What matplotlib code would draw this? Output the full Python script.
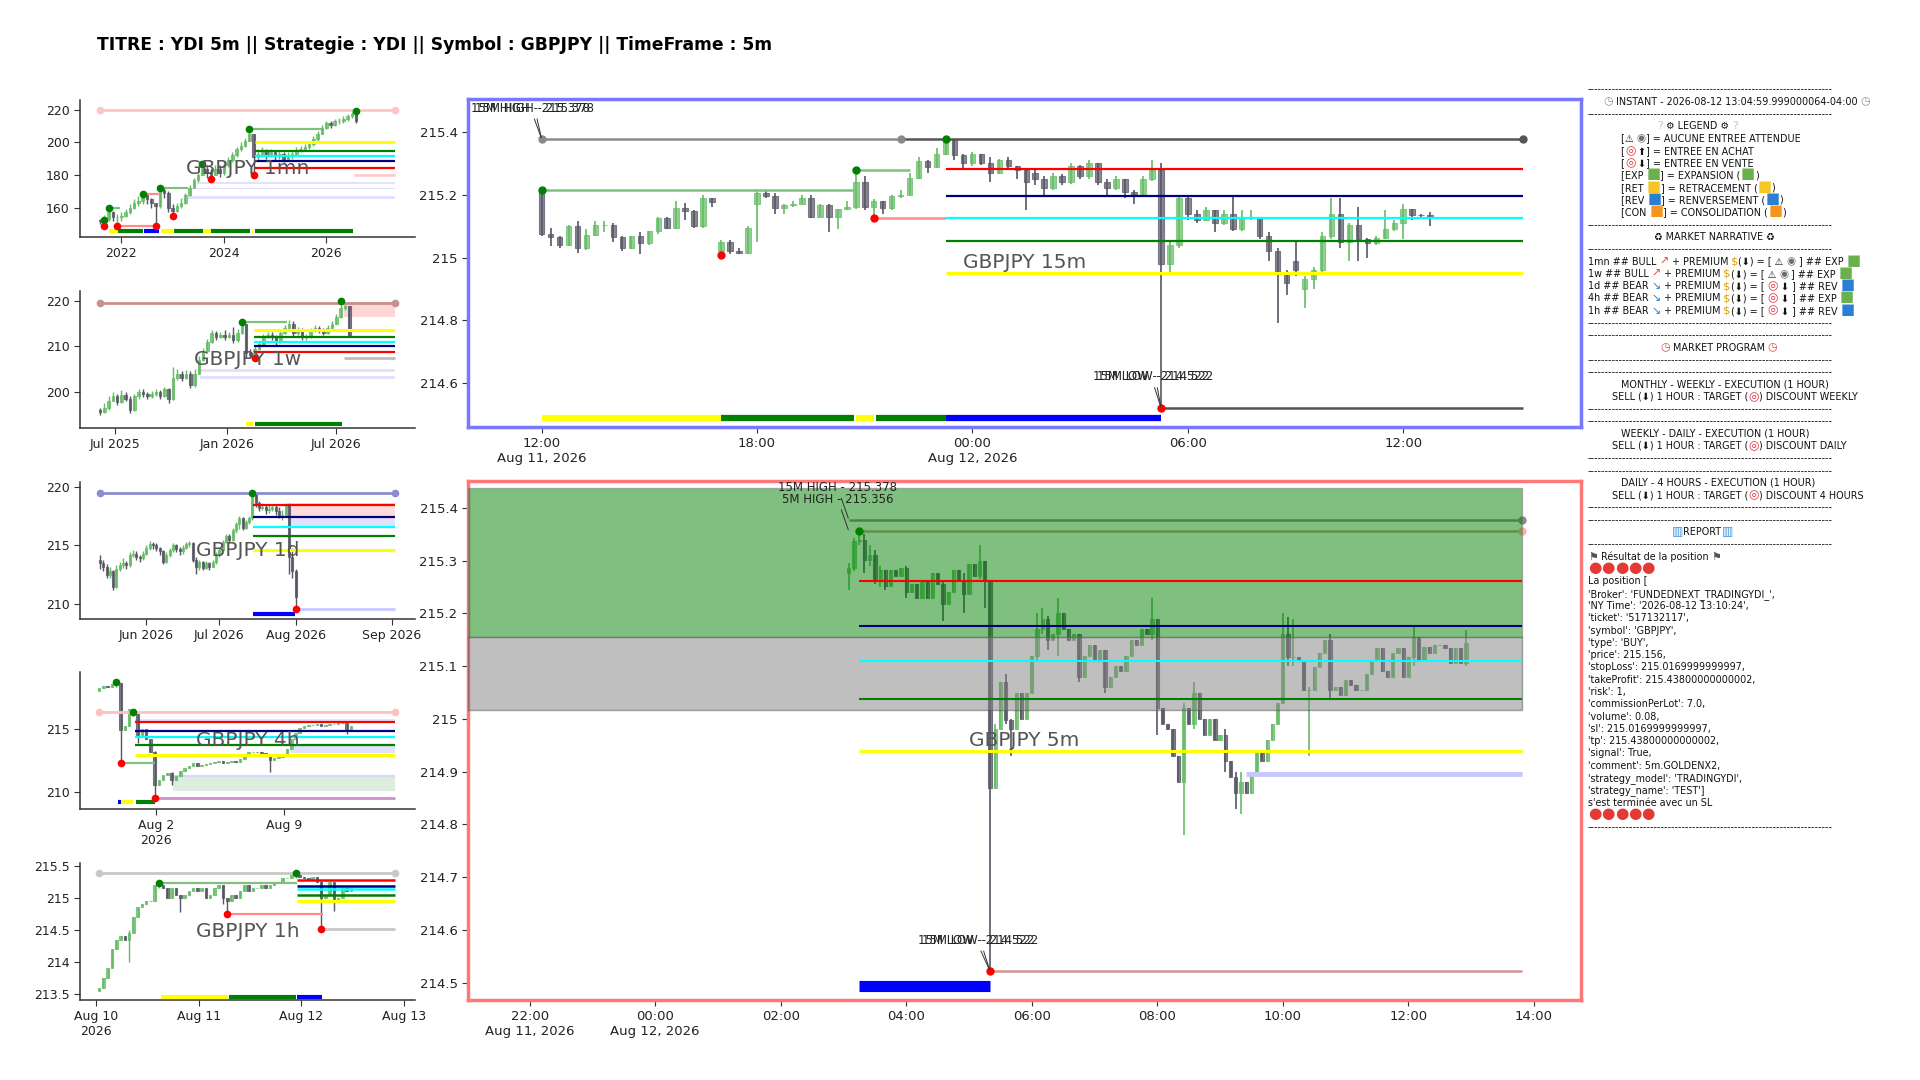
import numpy as np
import matplotlib
matplotlib.use("Agg")
import matplotlib.pyplot as plt
from matplotlib.ticker import FuncFormatter
from matplotlib.font_manager import FontProperties

FAMILIES = ["DejaVu Sans", "Noto Sans CJK JP"]
plt.rcParams["font.family"] = FAMILIES

TITLE = "TITRE : YDI 5m || Strategie : YDI || Symbol : GBPJPY || TimeFrame : 5m"

# ---------------- monthly (1mn) ----------------
mn_open0 = 152.5
mn_close = [151.5, 153, 157, 154, 154, 155, 157, 160, 163, 164, 168, 165, 163, 161, 171, 169,
            160, 158, 161, 163, 168, 172, 177, 180, 184, 182, 180, 184, 181, 186, 189, 192,
            196, 198, 201, 205, 191, 193, 195, 192, 194, 192, 193, 190, 192, 193, 195, 196,
            197, 199, 202, 205, 209, 212, 211, 213, 213.5, 214.5, 216, 217.5, 213]
mn_high = [153, 155.5, 160, 158, 156, 157, 159, 162, 165, 167, 168.5, 168, 166, 163, 172, 172,
           170, 162, 163, 166, 169, 174, 178, 181, 187, 186, 184, 186, 186, 188, 191, 194,
           197, 200, 203, 208, 205, 196, 197, 196, 196, 195, 195, 194, 194, 195, 197, 198,
           199, 201, 204, 207, 211, 213, 213, 214.5, 215, 216, 217.5, 219, 219.6]
mn_low = [150, 148.7, 152, 152, 148.7, 152, 154, 156, 159, 161, 162, 162, 160, 148.7, 160, 166,
          157, 155, 157, 160, 162, 167, 172, 176, 180, 178, 177.8, 180, 179, 180, 185, 188,
          191, 195, 197, 201, 180, 189, 191, 190, 191, 189, 190, 188, 189, 190, 192, 194,
          195, 196, 198, 201, 205, 208, 209, 210, 211.5, 212, 213.5, 215, 212]
mn_top = 220.0
mn_end = 69.1
mn_levels = [184.5, 188.6, 191.7, 195.0, 200.1]   # red, navy, cyan, green, yellow
mn_levels_from = 36.3
mn_faint = (59.4, 180.0)
mn_lav_bands = [(22.7, 174.3, 176.0), (20.7, 171.3, 171.9), (20.7, 165.5, 167.0)]
mn_links_up = [(2, 4.7, 160.0), (14, 20.7, 172.0), (35, 52.0, 208.0)]
mn_links_dn = [(10, 14, 168.5), (4, 13, 148.7)]
mn_green_dots = [(1, 152.4), (2, 160.0), (10, 168.5), (14, 172.0), (24, 186.8), (35, 208.0), (60, 219.6)]
mn_red_dots = [(1, 148.7), (4, 148.7), (13, 148.7), (17, 155.0), (26, 177.8), (36, 180.0)]
mn_phase_y = 145.8
mn_phases = [(2.2, 4.1, "RET"), (4.1, 10.0, "EXP"), (10.3, 13.9, "REV"), (14.3, 17.2, "RET"),
             (17.3, 24.1, "EXP"), (24.2, 26.1, "RET"), (26.1, 35.2, "EXP"), (35.5, 35.9, "RET"),
             (36.3, 59.2, "EXP")]
mn_xticks = [5, 29, 53]
mn_xlabels = ["2022", "2024", "2026"]
mn_yticks = [160, 180, 200, 220]

# ---------------- weekly (1w) ----------------
w_open0 = 196.0
w_close = [195.5, 196.5, 198, 199, 197.8, 199.3, 198.5, 196, 199, 200, 199.5, 199, 199.5, 200, 199,
           200.5, 198.5, 203, 204, 203, 204, 201.5, 204, 207, 209, 211, 213, 212, 212.5, 212,
           212.5, 211.5, 213, 215, 208.5, 208, 209.5, 210.5, 212, 212.5, 212, 211, 213, 214, 215,
           213, 213.5, 212, 212, 213.5, 214, 213.5, 213, 214, 215, 216.5, 218.5, 218.8, 212.5]
w_high = [196.5, 197.5, 199, 200, 199.5, 200.3, 200, 199, 199.6, 200.6, 200.5, 200, 200.2, 200.6,
          200.3, 201, 200.8, 205.5, 205, 204.5, 204.8, 204.5, 205, 207.8, 209.6, 211.6, 213.5,
          213.3, 213.2, 213.5, 213.2, 214.3, 213.8, 215.3, 215, 209.5, 210.3, 211.2, 212.8, 213.2,
          213.2, 212.6, 213.6, 214.8, 215.8, 215.5, 214.3, 214, 212.8, 214, 214.6, 214.5, 214,
          214.6, 215.6, 217.2, 220, 219.3, 218.8]
w_low = [194.8, 195.2, 196, 198, 197, 197.5, 198, 195.2, 195.8, 198.5, 198.8, 198.5, 198.7, 199,
         198.5, 198.8, 197.5, 198.2, 202.5, 202.3, 202.7, 200.8, 201, 203.8, 206.8, 208.8, 210.8,
         211.5, 211.8, 211.5, 211.8, 210.8, 211, 212.8, 207.5, 207.4, 207.8, 209.3, 210.3, 211.8,
         211.3, 210.3, 210.8, 212.8, 213.8, 212.3, 212.5, 211.5, 211.5, 211.8, 213.2, 213, 212.5,
         212.8, 213.8, 215, 216.3, 218, 212]
w_top = 219.6
w_end = 68.6
w_levels = [208.7, 210.0, 211.0, 212.1, 213.6]
w_levels_from = 35.9
w_pink_box = (56.7, 216.5, 219.8)
w_gray_line = (56.7, 207.4)
w_lav_bands = [(23.3, 204.3, 204.9), (23.3, 202.9, 203.4)]
w_links_up = [(33, 43.4, 215.3)]
w_green_dots = [(33, 215.3), (56, 219.9)]
w_red_dots = [(36, 207.4)]
w_phase_y = 192.8
w_phases = [(34, 35.7, "RET"), (36, 56.4, "EXP")]
w_xticks = [3.5, 29.5, 55]
w_xlabels = ["Jul 2025", "Jan 2026", "Jul 2026"]
w_yticks = [200, 210, 220]

# ---------------- daily (1d) ----------------
d_open0 = 213.8
d_close = [213.5, 213.2, 212.5, 212.8, 211.5, 213.0, 213.3, 213.5, 213.3, 214.2, 214.3, 214.0, 213.9, 214.3,
           214.8, 215.1, 215.0, 214.8, 214.5, 213.6, 214.2, 214.6, 215.0, 214.7, 214.5, 214.8, 215.1,
           215.2, 213.8, 213.2, 213.6, 213.1, 213.5, 213.2, 213.6, 214.2,
           214.6, 215.3, 215.8, 215.5, 216.3, 216.8, 217.3, 216.5, 217.0, 217.3,
           219.4,
           218.6, 218.2, 218.3, 218.0, 218.1, 218.3, 217.9, 217.6, 217.6, 218.4,
           214.0, 212.8, 210.6]
d_high = [214.2, 213.8, 213.4, 213.2, 212.9, 213.3, 213.6, 213.9, 213.7, 214.4, 214.6, 214.5, 214.2, 214.5,
          215.0, 215.4, 215.3, 215.2, 214.9, 214.6, 214.4, 214.8, 215.2, 215.1, 214.9, 215.0, 215.3,
          215.4, 215.3, 214.0, 213.8, 213.7, 213.7, 213.6, 213.8, 214.4,
          214.8, 215.5, 216.0, 216.0, 216.5, 217.0, 217.5, 217.4, 217.2, 217.5,
          219.6,
          219.4, 218.8, 218.6, 218.5, 218.4, 218.5, 218.4, 218.3, 218.0, 218.6,
          218.6, 214.8, 213.0]
d_low = [213.0, 212.8, 212.2, 212.2, 211.2, 211.4, 212.8, 213.1, 213.0, 213.2, 214.0, 213.8, 213.6, 213.8,
         214.2, 214.6, 214.7, 214.5, 214.2, 213.4, 213.5, 214.0, 214.4, 214.4, 214.2, 214.3, 214.7,
         214.9, 213.6, 212.6, 212.9, 212.9, 213.0, 212.9, 213.3, 213.4,
         214.0, 214.5, 215.2, 215.2, 215.4, 216.1, 216.4, 216.3, 216.4, 216.8,
         217.2,
         218.3, 217.9, 218.0, 217.7, 217.8, 217.9, 217.6, 217.3, 217.2, 217.4,
         212.6, 212.2, 209.6]
d_top = 219.5
d_end = 88.9
d_levels = [218.4, 217.4, 216.6, 215.8, 214.6]
d_levels_from = 46.2
d_pink_box = (57.3, 217.4, 218.6)
d_lav_box = (57.3, 216.6, 217.4)
d_lav_line = (59, 209.6)
d_green_dots = [(46, 219.5)]
d_red_dots = [(59, 209.6)]
d_phase_y = 209.2
d_phases = [(46.2, 58.8, "REV")]
d_xticks = [14, 36, 59, 88]
d_xlabels = ["Jun 2026", "Jul 2026", "Aug 2026", "Sep 2026"]
d_yticks = [210, 215, 220]

# ---------------- 4 hours (4h) ----------------
h4_open0 = 218.0
h4_close = [218.2, 218.4, 218.3, 218.5, 218.6, 214.9, 215.2, 216.6, 216.2, 214.5,
            215.0, 214.2, 213.2, 210.6, 211.0, 211.4, 211.5, 211.0, 211.3, 211.7,
            211.9, 212.1, 212.3, 212.1, 212.2, 212.25, 212.3, 212.4, 212.5, 212.35,
            212.4, 212.45, 212.4, 212.6, 212.85, 213.2, 213.2, 213.15, 213.1, 212.95,
            212.55, 212.7, 212.8, 213.0, 213.4, 214.2, 214.7, 215.1, 215.25, 215.3,
            215.3, 215.35, 215.2, 215.3, 215.35, 215.4, 215.45, 215.5, 215.0, 215.2]
h4_wicks = {4: (218.7, 218.3), 5: (218.6, 212.3), 8: (216.33, 216.0), 9: (216.2, 213.9),
            13: (213.3, 209.55), 17: (211.6, 210.6), 40: (213.0, 211.6), 58: (215.5, 214.6)}
h4_top = 216.33
h4_end = 69.3
h4_levels = [215.55, 214.87, 214.35, 213.72, 212.94]
h4_levels_from = 8.4
h4_lav_boxes = [(8.4, 215.47, 215.78), (44.7, 213.07, 213.78)]
h4_green_box = (17.3, 210.13, 211.3)
h4_plum_line = (13.3, 209.55)
h4_links_up = [(5.2, 13, 212.3)]
h4_green_dots = [(4, 218.7), (8, 216.33)]
h4_red_dots = [(5, 212.3), (13, 209.55)]
h4_phase_y = 209.27
h4_phases = [(4.5, 5.1, "REV"), (5.2, 8.0, "RET"), (8.6, 13.0, "EXP")]
h4_xticks = [13.3, 43.3]
h4_xlabels = ["Aug 2\n2026", "Aug 9"]
h4_yticks = [210, 215]

# ---------------- 1 hour (1h) ----------------
h1_open0 = 213.55
h1_close = [213.6, 213.75, 213.9, 214.2, 214.35, 214.4, 214.35, 214.45, 214.7, 214.85,
            214.9, 214.95, 214.95, 215.2, 215.2, 215.15, 215.0, 215.15, 215.05, 215.0,
            215.05, 215.1, 215.15, 215.1, 215.15, 215.0, 215.05, 215.15, 215.2, 215.0,
            214.95, 215.05, 215.0, 215.1, 215.2, 215.1, 215.15, 215.15, 215.2, 215.15,
            215.2, 215.25, 215.25, 215.3, 215.3, 215.35, 215.35, 215.33, 215.3, 215.28,
            215.32, 215.25, 215.0, 215.05, 215.25, 214.95, 215.0, 215.15, 215.1, 215.15]
h1_wicks = {7: (214.5, 214.0), 14: (215.23, 215.15), 19: (215.05, 214.78), 29: (215.2, 214.9),
            30: (215.0, 214.75), 46: (215.38, 215.3), 52: (215.28, 214.52), 55: (215.25, 214.8)}
h1_top = 215.38
h1_end = 69.3
h1_levels = [215.28, 215.19, 215.13, 215.05, 214.95]
h1_levels_from = 46.25
h1_links_up = [(14, 46.25, 215.23)]
h1_links_dn = [(30.2, 52.5, 214.75)]
h1_gray_line = (52.3, 214.52)
h1_green_dots = [(14, 215.23), (46, 215.38)]
h1_red_dots = [(30, 214.75), (52, 214.52)]
h1_phase_y = 213.46
h1_phases = [(14.5, 30.1, "RET"), (30.5, 46.1, "EXP"), (46.4, 52.1, "REV")]
h1_xticks = [-0.8, 23.3, 47.4, 71.4]
h1_xlabels = ["Aug 10\n2026", "Aug 11", "Aug 12", "Aug 13"]
h1_yticks = [213.5, 214, 214.5, 215, 215.5]

# ---------------- 15 minutes (main top) ----------------
m15_close = [215.075, 215.064, 215.041, 215.099, 215.030, 215.072, 215.105, 215.105, 215.064, 215.030,
             215.067, 215.046, 215.083, 215.126, 215.094, 215.158, 215.147, 215.100, 215.190, 215.177,
             215.050, 215.020, 215.015, 215.094, 215.205, 215.195, 215.158, 215.168, 215.172, 215.190,
             215.130, 215.168, 215.130, 215.153, 215.160, 215.240, 215.160, 215.180, 215.158, 215.195,
             215.200, 215.253, 215.306, 215.287, 215.330, 215.378, 215.328, 215.300, 215.330, 215.300,
             215.270, 215.310, 215.290, 215.280, 215.240, 215.250, 215.220, 215.260, 215.240, 215.290,
             215.260, 215.300, 215.240, 215.220, 215.250, 215.210, 215.200, 215.250, 215.280, 214.980,
             215.040, 215.190, 215.140, 215.120, 215.150, 215.110, 215.140, 215.090, 215.130, 215.130,
             215.070, 215.020, 214.950, 214.920, 214.960, 214.930, 214.960, 215.070, 215.140, 215.050,
             215.104, 215.058, 215.046, 215.062, 215.090, 215.110, 215.153, 215.136, 215.135, 215.125]
m15_open_gaps = {0: 215.216, 20: 215.020, 24: 215.170, 55: 215.270, 84: 214.990, 85: 214.900}
m15_high = [215.220, 215.094, 215.070, 215.105, 215.117, 215.090, 215.115, 215.115, 215.110, 215.070,
            215.070, 215.080, 215.085, 215.130, 215.130, 215.180, 215.175, 215.150, 215.200, 215.190,
            215.055, 215.055, 215.030, 215.100, 215.215, 215.215, 215.205, 215.170, 215.180, 215.200,
            215.200, 215.170, 215.170, 215.155, 215.180, 215.280, 215.260, 215.185, 215.180, 215.200,
            215.215, 215.270, 215.320, 215.310, 215.350, 215.378, 215.378, 215.330, 215.335, 215.330,
            215.320, 215.315, 215.320, 215.290, 215.280, 215.280, 215.260, 215.270, 215.265, 215.300,
            215.295, 215.310, 215.300, 215.250, 215.260, 215.250, 215.215, 215.260, 215.310, 215.300,
            215.050, 215.200, 215.200, 215.150, 215.160, 215.150, 215.150, 215.200, 215.150, 215.150,
            215.130, 215.080, 215.030, 214.960, 215.050, 214.940, 214.970, 215.080, 215.190, 215.190,
            215.110, 215.160, 215.062, 215.070, 215.150, 215.120, 215.170, 215.155, 215.140, 215.145]
m15_low = [215.070, 215.036, 215.030, 215.038, 215.014, 215.025, 215.068, 215.080, 215.050, 215.020,
           215.028, 215.010, 215.040, 215.075, 215.090, 215.090, 215.120, 215.095, 215.095, 215.160,
           215.009, 215.010, 215.010, 215.012, 215.050, 215.190, 215.140, 215.140, 215.160, 215.170,
           215.125, 215.128, 215.080, 215.090, 215.150, 215.155, 215.150, 215.126, 215.140, 215.150,
           215.190, 215.198, 215.250, 215.270, 215.285, 215.325, 215.310, 215.280, 215.290, 215.295,
           215.240, 215.265, 215.285, 215.250, 215.150, 215.230, 215.200, 215.215, 215.230, 215.235,
           215.250, 215.250, 215.230, 215.200, 215.215, 215.190, 215.170, 215.195, 215.245, 214.522,
           214.950, 215.030, 215.120, 215.110, 215.115, 215.080, 215.105, 215.085, 215.085, 215.120,
           215.060, 214.990, 214.790, 214.880, 214.940, 214.840, 214.900, 214.950, 215.060, 215.030,
           214.990, 214.990, 215.000, 215.040, 215.060, 215.085, 215.060, 215.120, 215.125, 215.100]
m15_high_level = 215.378
m15_low_level = 214.522
m15_end = 109.3
m15_levels = [215.283, 215.197, 215.127, 215.053, 214.951]
m15_levels_from = 45
m15_links_up = [(0, 35, 215.216), (35, 41, 215.28)]
m15_links_dn = [(37, 45, 215.126)]
m15_green_dots = [(0, 215.216), (35, 215.28), (45, 215.378)]
m15_red_dots = [(20, 215.009), (37, 215.126), (69, 214.522)]
m15_phase_y = 214.49
m15_phases = [(0, 20, "RET"), (20, 34.8, "EXP"), (35, 37, "RET"), (37.2, 45, "EXP"), (45, 69, "REV")]
m15_xticks = [0, 24, 48, 72, 96]
m15_xlabels = ["12:00\nAug 11, 2026", "18:00", "00:00\nAug 12, 2026", "06:00", "12:00"]
m15_yticks = [214.6, 214.8, 215.0, 215.2, 215.4]

# ---------------- 5 minutes (main bottom) ----------------
m5_open0 = 215.277
m5_close = [215.286, 215.337, 215.340, 215.302, 215.310, 215.264, 215.283, 215.252, 215.283, 215.270,
            215.286, 215.240, 215.255, 215.230, 215.264, 215.229, 215.277, 215.255, 215.217, 215.240,
            215.283, 215.264, 215.236, 215.293, 215.270, 215.300, 215.264, 214.869, 214.980, 215.070,
            214.998, 214.980, 215.050, 215.000, 215.050, 215.120, 215.170, 215.190, 215.150, 215.160,
            215.200, 215.170, 215.150, 215.160, 215.080, 215.120, 215.140, 215.110, 215.130, 215.060,
            215.080, 215.100, 215.090, 215.120, 215.150, 215.140, 215.170, 215.160, 215.190, 215.020,
            214.990, 214.980, 214.930, 214.880, 215.020, 214.990, 215.050, 215.000, 214.970, 215.000,
            214.960, 214.970, 214.920, 214.890, 214.860, 214.880, 214.860, 214.900, 214.935, 214.920,
            214.960, 214.990, 215.030, 215.160, 215.118, 215.118, 215.109, 215.055, 215.055, 215.099,
            215.124, 215.150, 215.055, 215.061, 215.045, 215.074, 215.065, 215.055, 215.055, 215.086,
            215.112, 215.134, 215.090, 215.080, 215.124, 215.134, 215.080, 215.118, 215.156, 215.112,
            215.137, 215.124, 215.140, 215.140, 215.134, 215.105, 215.134, 215.105, 215.143]
m5_wicks = {0: (215.296, 215.245), 1: (215.343, 215.280), 2: (215.356, 215.330), 3: (215.350, 215.277),
            4: (215.330, 215.290), 5: (215.320, 215.255), 6: (215.290, 215.250), 7: (215.270, 215.245),
            11: (215.290, 215.230), 18: (215.260, 215.185), 22: (215.277, 215.200), 25: (215.330, 215.265),
            26: (215.300, 215.210), 27: (215.264, 214.522), 28: (214.990, 214.870), 30: (215.085, 214.990),
            31: (215.000, 214.930), 36: (215.200, 215.110), 37: (215.210, 215.160), 38: (215.195, 215.130),
            40: (215.230, 215.120), 44: (215.160, 215.070), 49: (215.130, 215.050), 58: (215.230, 215.150),
            59: (215.190, 214.970), 64: (215.030, 214.780), 66: (215.070, 214.980), 72: (214.980, 214.900),
            74: (214.900, 214.830), 75: (214.900, 214.820), 83: (215.200, 215.030), 84: (215.194, 215.100),
            85: (215.190, 215.100), 88: (215.060, 214.930), 92: (215.160, 215.040), 108: (215.175, 215.100),
            118: (215.169, 215.100)}
m5_tp = 215.437
m5_entry = 215.156
m5_sl = 215.017
m5_high15 = 215.378
m5_high5 = 215.356
m5_low15 = 214.522
m5_end = 128.8
m5_levels = [215.261, 215.177, 215.109, 215.037, 214.939]
m5_levels_from = 2
m5_orange_line = (59, 214.94)
m5_lav_line = (76, 214.895)
m5_blue_bar = (2, 27, 214.494)
m5_xticks = [-61, -37, -13, 11, 35, 59, 83, 107, 131]
m5_xlabels = ["22:00\nAug 11, 2026", "00:00\nAug 12, 2026", "02:00", "04:00", "06:00",
              "08:00", "10:00", "12:00", "14:00"]
m5_yticks = [214.5, 214.6, 214.7, 214.8, 214.9, 215.0, 215.1, 215.2, 215.3, 215.4]

# ---------------- report text ----------------
DASH = "-" * 70
report_lines = [
    DASH,
    "     \u23f1 INSTANT - 2026-08-12 13:04:59.999000064-04:00 \u23f1",
    DASH,
    "                       \u2754 \u2699 LEGEND \u2699 \u2754",
    "           [\u26a0 \U0001F441] = AUCUNE ENTREE ATTENDUE",
    "           [\U0001F3AF \u2b06] = ENTREE EN ACHAT",
    "           [\U0001F3AF \u2b07] = ENTREE EN VENTE",
    "           [EXP \U0001F7E9] = EXPANSION (\U0001F7E9)",
    "           [RET \U0001F7E8] = RETRACEMENT (\U0001F7E8)",
    "           [REV \U0001F7E6] = RENVERSEMENT (\U0001F7E6)",
    "           [CON \U0001F7E7] = CONSOLIDATION (\U0001F7E7)",
    DASH,
    "                      \u267b MARKET NARRATIVE \u267b",
    DASH,
    "1mn ## BULL \U0001F4C8 + PREMIUM \U0001F4B0(\u2b07) = [ \u26a0 \U0001F441 ] ## EXP \U0001F7E9",
    "1w ## BULL \U0001F4C8 + PREMIUM \U0001F4B0(\u2b07) = [ \u26a0 \U0001F441 ] ## EXP \U0001F7E9",
    "1d ## BEAR \U0001F4C9 + PREMIUM \U0001F4B0(\u2b07) = [ \U0001F3AF \u2b07 ] ## REV \U0001F7E6",
    "4h ## BEAR \U0001F4C9 + PREMIUM \U0001F4B0(\u2b07) = [ \U0001F3AF \u2b07 ] ## EXP \U0001F7E9",
    "1h ## BEAR \U0001F4C9 + PREMIUM \U0001F4B0(\u2b07) = [ \U0001F3AF \u2b07 ] ## REV \U0001F7E6",
    DASH,
    DASH,
    "                        \u23f0 MARKET PROGRAM \u23f0",
    DASH,
    DASH,
    "           MONTHLY - WEEKLY - EXECUTION (1 HOUR)",
    "        SELL (\u2b07) 1 HOUR : TARGET (\U0001F3AF) DISCOUNT WEEKLY",
    DASH,
    DASH,
    "           WEEKLY - DAILY - EXECUTION (1 HOUR)",
    "        SELL (\u2b07) 1 HOUR : TARGET (\U0001F3AF) DISCOUNT DAILY",
    DASH,
    DASH,
    "           DAILY - 4 HOURS - EXECUTION (1 HOUR)",
    "        SELL (\u2b07) 1 HOUR : TARGET (\U0001F3AF) DISCOUNT 4 HOURS",
    DASH,
    DASH,
    "                            \U0001F4CAREPORT\U0001F4CA",
    DASH,
    "\U0001F3C1 R\u00e9sultat de la position \U0001F3C1",
    "\u26d4\u26d4\u26d4\u26d4\u26d4",
    "La position [",
    "'Broker': 'FUNDEDNEXT_TRADINGYDI_',",
    "'NY Time': '2026-08-12 13:10:24',",
    "'ticket': '517132117',",
    "'symbol': 'GBPJPY',",
    "'type': 'BUY',",
    "'price': 215.156,",
    "'stopLoss': 215.0169999999997,",
    "'takeProfit': 215.43800000000002,",
    "'risk': 1,",
    "'commissionPerLot': 7.0,",
    "'volume': 0.08,",
    "'sl': 215.0169999999997,",
    "'tp': 215.43800000000002,",
    "'signal': True,",
    "'comment': 5m.GOLDENX2,",
    "'strategy_model': 'TRADINGYDI',",
    "'strategy_name': 'TEST']",
    "s'est termin\u00e9e avec un SL",
    "\u26d4\u26d4\u26d4\u26d4\u26d4",
    DASH,
]

# emoji that no installed family has: drawn as a coloured stand-in symbol
EMOJI_SUBST = {
    "\u23f1": ("\u25f7", "#8c8c8c", 1.15),
    "\u23f0": ("\u25f7", "#e0443a", 1.15),
    "\u2754": ("?", "#c4c4c4", 1.15),
    "\U0001F441": ("\u25c9", "#6f6f6f", 1.1),
    "\U0001F3AF": ("\u25ce", "#e0303a", 1.25),
    "\U0001F7E9": ("\u25a0", "#6ab04c", 1.55),
    "\U0001F7E8": ("\u25a0", "#f6c624", 1.55),
    "\U0001F7E6": ("\u25a0", "#2a7fd4", 1.55),
    "\U0001F7E7": ("\u25a0", "#f7941d", 1.55),
    "\U0001F4C8": ("\u2197", "#e0443a", 1.15),
    "\U0001F4C9": ("\u2198", "#2a7fd4", 1.15),
    "\U0001F4B0": ("$", "#d9a514", 1.2),
    "\U0001F4CA": ("\u25a5", "#3b8ed8", 1.25),
    "\U0001F3C1": ("\u2691", "#555555", 1.15),
    "\u26d4": ("\u25cf", "#e53935", 1.6),
}

# ---------------- styles ----------------
GREEN = "#66bb66"
DARK = "#565665"
LEVEL_COLORS = ["#ff0000", "#000080", "#00ffff", "#008000", "#ffff00"]
PHASE_COLORS = {"EXP": "#008000", "RET": "#ffff00", "REV": "#0000ff"}
LINK_UP = "#7fc07f"
LINK_DN = "#ff8c8c"
W, H = 1920, 1080


def ohlc(close, open0=None, high=None, low=None, opens=None, wicks=None):
    c = np.asarray(close, dtype=float)
    o = np.r_[open0 if open0 is not None else c[0], c[:-1]]
    for k, v in (opens or {}).items():
        o[k] = v
    h = np.maximum(o, c) if high is None else np.asarray(high, dtype=float)
    l = np.minimum(o, c) if low is None else np.asarray(low, dtype=float)
    for k, (hi, lo) in (wicks or {}).items():
        h[k] = hi
        l[k] = lo
    h = np.maximum(h, np.maximum(o, c))
    l = np.minimum(l, np.minimum(o, c))
    return o, h, l, c


def draw_candles(ax, o, h, l, c, width=0.6, wick_lw=1.0, alpha=0.75):
    x = np.arange(len(c))
    cols = [GREEN if cc >= oo else DARK for oo, cc in zip(o, c)]
    ax.vlines(x, l, h, colors=cols, lw=wick_lw, zorder=3)
    ax.bar(x, np.abs(c - o), bottom=np.minimum(o, c), width=width, color=cols,
           edgecolor=cols, linewidth=0.8, alpha=alpha, zorder=3)


def seg(ax, y, x0, x1, color, lw=1.5, alpha=1.0, z=4):
    ax.plot([x0, x1], [y, y], color=color, lw=lw, alpha=alpha, zorder=z, solid_capstyle="butt")


def dots(ax, pts, color, ms=4.5, z=6):
    if pts:
        xs, ys = zip(*pts)
        ax.plot(xs, ys, "o", color=color, ms=ms, zorder=z, lw=0)


def box(ax, x0, x1, y0, y1, color, alpha=1.0, z=1, ec="none", lw=0):
    ax.fill_between([x0, x1], y0, y1, color=color, alpha=alpha, zorder=z, edgecolor=ec, linewidth=lw)


def levels(ax, vals, x0, x1, lw=1.6, z=5):
    for v, col in zip(vals, LEVEL_COLORS):
        seg(ax, v, x0, x1, col, lw=lw + (0.6 if col == "#ffff00" else 0), z=z)


def phases(ax, segs, y, lw=3):
    for a, b, code in segs:
        seg(ax, y, a, b, PHASE_COLORS[code], lw=lw, z=5)


def links(ax, up, dn, lw=1.6):
    for a, b, y in up:
        seg(ax, y, a, b, LINK_UP, lw=lw, z=4)
    for a, b, y in dn:
        seg(ax, y, a, b, LINK_DN, lw=lw, z=4)


def fmt(v, pos):
    return f"{v:g}"


def px_axes(fig, x0, y0, x1, y1):
    return fig.add_axes([x0 / W, 1 - y1 / H, (x1 - x0) / W, (y1 - y0) / H])


def style_mini(ax, xlim, ylim, xticks, xlabels, yticks, label):
    ax.set_xlim(*xlim)
    ax.set_ylim(*ylim)
    ax.set_xticks(xticks)
    ax.set_xticklabels(xlabels)
    ax.set_yticks(yticks)
    ax.yaxis.set_major_formatter(FuncFormatter(fmt))
    for s in ("top", "right"):
        ax.spines[s].set_visible(False)
    for s in ("left", "bottom"):
        ax.spines[s].set_color("#333333")
        ax.spines[s].set_linewidth(1.1)
    ax.tick_params(labelsize=9, length=4, color="#333333", labelcolor="#222222")
    ax.text(0.5, 0.5, label, transform=ax.transAxes, ha="center", va="center",
            fontsize=14.5, color="#555555", zorder=10)


def style_main(ax, xlim, ylim, xticks, xlabels, yticks, label, frame):
    ax.set_xlim(*xlim)
    ax.set_ylim(*ylim)
    ax.set_xticks(xticks)
    ax.set_xticklabels(xlabels)
    ax.set_yticks(yticks)
    ax.yaxis.set_major_formatter(FuncFormatter(fmt))
    for s in ax.spines.values():
        s.set_color(frame)
        s.set_linewidth(2.5)
    ax.tick_params(labelsize=9.5, length=4, color="#333333", labelcolor="#222222")
    ax.text(0.5, 0.5, label, transform=ax.transAxes, ha="center", va="center",
            fontsize=14.5, color="#555555", zorder=10)


def annotate_twice(ax, text, xy, dx, dy, shift=0.0):
    for k in range(2 if shift else 1):
        ax.annotate(text, xy=xy, xytext=(dx + k * shift, dy), textcoords="offset points",
                    ha="center", va="center", fontsize=8.5, color="#222222", zorder=12,
                    arrowprops=dict(arrowstyle="-", color="#333333", lw=0.7, shrinkA=1, shrinkB=1))


def advance(renderer, txt, prop):
    # width of txt including trailing spaces, measured with a sentinel bar
    w_all = renderer.get_text_width_height_descent(txt + "|", prop, ismath=False)[0]
    w_bar = renderer.get_text_width_height_descent("|", prop, ismath=False)[0]
    return w_all - w_bar


def rich_line(fig, renderer, x_px, y_px, line, size, color="#111111"):
    runs, buf = [], ""
    for ch in line:
        if ch in EMOJI_SUBST:
            if buf:
                runs.append((buf, color, 1.0))
                buf = ""
            runs.append(EMOJI_SUBST[ch])
        else:
            buf += ch
    if buf:
        runs.append((buf, color, 1.0))
    x = x_px
    for txt, col, scale in runs:
        prop = FontProperties(family=FAMILIES, size=size * scale)
        fig.text(x / W, 1 - y_px / H, txt, fontproperties=prop, color=col,
                 ha="left", va="baseline")
        x += advance(renderer, txt, prop)


fig = plt.figure(figsize=(19.2, 10.8), dpi=100)
renderer = fig.canvas.get_renderer()
fig.text(97 / W, 1 - 45 / H, TITLE, fontsize=12.3, fontweight="bold", va="center", ha="left")

# ---- 1mn ----
ax = px_axes(fig, 80, 100, 415, 237)
o, h, l, c = ohlc(mn_close, mn_open0, mn_high, mn_low)
draw_candles(ax, o, h, l, c)
seg(ax, mn_top, 0, mn_end, "#ffc4c4", lw=2)
dots(ax, [(0, mn_top), (mn_end, mn_top)], "#ffc4c4")
for x0, y0, y1 in mn_lav_bands:
    box(ax, x0, mn_end, y0, y1, "#e2e2ff", z=2)
seg(ax, mn_faint[1], mn_faint[0], mn_end, "#ffc4c4", lw=1.8)
links(ax, mn_links_up, mn_links_dn)
levels(ax, mn_levels, mn_levels_from, mn_end)
phases(ax, mn_phases, mn_phase_y)
dots(ax, mn_green_dots, "green")
dots(ax, mn_red_dots, "red")
style_mini(ax, (-4.7, 73.8), (141.9, 226.1), mn_xticks, mn_xlabels, mn_yticks, "GBPJPY 1mn")

# ---- 1w ----
ax = px_axes(fig, 80, 291, 415, 428)
o, h, l, c = ohlc(w_close, w_open0, w_high, w_low)
draw_candles(ax, o, h, l, c)
box(ax, w_pink_box[0], w_end, w_pink_box[1], w_pink_box[2], "#ffd6d6", z=2)
seg(ax, w_top, 0, w_end, "#c49090", lw=2)
dots(ax, [(0, w_top), (w_end, w_top)], "#c49090")
for x0, y0, y1 in w_lav_bands:
    box(ax, x0, w_end, y0, y1, "#e2e2ff", z=2)
seg(ax, w_gray_line[1], w_gray_line[0], w_end, "#bdbdbd", lw=2)
links(ax, w_links_up, [])
levels(ax, w_levels, w_levels_from, w_end)
phases(ax, w_phases, w_phase_y)
dots(ax, w_green_dots, "green")
dots(ax, w_red_dots, "red")
style_mini(ax, (-4.65, 73.3), (192.0, 222.2), w_xticks, w_xlabels, w_yticks, "GBPJPY 1w")

# ---- 1d ----
ax = px_axes(fig, 80, 482, 415, 619)
o, h, l, c = ohlc(d_close, d_open0, d_high, d_low)
draw_candles(ax, o, h, l, c)
box(ax, d_pink_box[0], d_end, d_pink_box[1], d_pink_box[2], "#ffdcdc", z=2)
box(ax, d_lav_box[0], d_end, d_lav_box[1], d_lav_box[2], "#e2e2ff", z=2)
seg(ax, d_top, 0, d_end, "#8c8cd0", lw=2)
dots(ax, [(0, d_top), (d_end, d_top)], "#8c8cd0")
seg(ax, d_lav_line[1], d_lav_line[0], d_end, "#c8c8ff", lw=2)
levels(ax, d_levels, d_levels_from, d_end)
phases(ax, d_phases, d_phase_y)
dots(ax, d_green_dots, "green")
dots(ax, d_red_dots, "red")
style_mini(ax, (-6.0, 95.0), (208.74, 220.4), d_xticks, d_xlabels, d_yticks, "GBPJPY 1d")

# ---- 4h ----
ax = px_axes(fig, 80, 672, 415, 809)
o, h, l, c = ohlc(h4_close, h4_open0, wicks=h4_wicks)
draw_candles(ax, o, h, l, c)
for x0, y0, y1 in h4_lav_boxes:
    box(ax, x0, h4_end, y0, y1, "#e2e2ff", z=2)
box(ax, h4_green_box[0], h4_end, h4_green_box[1], h4_green_box[2], "#deeede", z=2)
seg(ax, h4_green_box[2], h4_green_box[0], h4_end, "#d6d6ff", lw=1.5, z=2)
seg(ax, h4_top, 0, h4_end, "#ffc0c0", lw=2)
dots(ax, [(0, h4_top), (h4_end, h4_top)], "#ffc0c0")
seg(ax, h4_plum_line[1], h4_plum_line[0], h4_end, "#d08fd0", lw=2)
links(ax, h4_links_up, [])
levels(ax, h4_levels, h4_levels_from, h4_end)
phases(ax, h4_phases, h4_phase_y)
dots(ax, h4_green_dots, "green")
dots(ax, h4_red_dots, "red")
style_mini(ax, (-4.5, 74.0), (208.7, 219.48), h4_xticks, h4_xlabels, h4_yticks, "GBPJPY 4h")

# ---- 1h ----
ax = px_axes(fig, 80, 863, 415, 1000)
o, h, l, c = ohlc(h1_close, h1_open0, wicks=h1_wicks)
draw_candles(ax, o, h, l, c)
seg(ax, h1_top, 0, h1_end, "#c8c8c8", lw=2)
dots(ax, [(0, h1_top), (h1_end, h1_top)], "#c8c8c8")
seg(ax, h1_gray_line[1], h1_gray_line[0], h1_end, "#c8c8c8", lw=2)
links(ax, h1_links_up, h1_links_dn)
levels(ax, h1_levels, h1_levels_from, h1_end, lw=1.8)
phases(ax, h1_phases, h1_phase_y)
dots(ax, h1_green_dots, "green")
dots(ax, h1_red_dots, "red")
style_mini(ax, (-4.5, 74.0), (213.41, 215.54), h1_xticks, h1_xlabels, h1_yticks, "GBPJPY 1h")

# ---- 15m (main top) ----
ax = px_axes(fig, 468, 99, 1581, 427)
o, h, l, c = ohlc(m15_close, m15_close[0], m15_high, m15_low, opens=m15_open_gaps)
draw_candles(ax, o, h, l, c, width=0.62, wick_lw=1.2, alpha=0.7)
seg(ax, m15_high_level, 0, 40, "#8a8a8a", lw=1.8)
seg(ax, m15_high_level, 40, m15_end, "#555555", lw=1.8)
dots(ax, [(0, m15_high_level), (40, m15_high_level)], "#8a8a8a", ms=5)
dots(ax, [(m15_end, m15_high_level)], "#555555", ms=5)
seg(ax, m15_low_level, 69, m15_end, "#555555", lw=1.8)
links(ax, m15_links_up, m15_links_dn, lw=1.8)
levels(ax, m15_levels, m15_levels_from, m15_end, lw=1.6)
phases(ax, m15_phases, m15_phase_y, lw=4.5)
dots(ax, m15_green_dots, "green", ms=5)
dots(ax, m15_red_dots, "red", ms=5)
annotate_twice(ax, f"15M HIGH - {m15_high_level}", (0, m15_high_level), -8, 22, shift=3)
annotate_twice(ax, f"15M LOW - {m15_low_level}", (69, m15_low_level), -7, 22, shift=3)
style_main(ax, (-8.2, 115.8), (214.46, 215.505), m15_xticks, m15_xlabels, m15_yticks,
           "GBPJPY 15m", "#7878ff")

# ---- 5m (main bottom) ----
ax = px_axes(fig, 468, 481, 1581, 1000)
o, h, l, c = ohlc(m5_close, m5_open0, wicks=m5_wicks)
draw_candles(ax, o, h, l, c, width=0.62, wick_lw=1.2, alpha=0.75)
x_left = -72.8
box(ax, x_left, m5_end, m5_entry, m5_tp, "green", alpha=0.5, z=5, ec="#777777", lw=1)
box(ax, x_left, m5_end, m5_sl, m5_entry, "gray", alpha=0.5, z=5, ec="#555555", lw=1)
seg(ax, m5_high15, 0, m5_end, "#8a8a8a", lw=1.8, z=4)
seg(ax, m5_high5, 2, m5_end, "#d09a9a", lw=1.8, z=4)
dots(ax, [(m5_end, m5_high15)], "#8a8a8a", ms=5, z=4)
dots(ax, [(m5_end, m5_high5)], "#ffb0b0", ms=5, z=4)
seg(ax, m5_orange_line[1], m5_orange_line[0], m5_end, "#ffd08c", lw=2, z=6)
seg(ax, m5_lav_line[1], m5_lav_line[0], m5_end, "#c8c8ff", lw=3.5, z=6)
levels(ax, m5_levels, m5_levels_from, m5_end, lw=1.5, z=7)
seg(ax, m5_low15, 27, m5_end, "#d49494", lw=1.8, z=6)
seg(ax, m5_blue_bar[2], m5_blue_bar[0], m5_blue_bar[1], "#0000ff", lw=8, z=6)
dots(ax, [(2, m5_high5)], "green", ms=5, z=4)
dots(ax, [(27, m5_low15)], "red", ms=5, z=8)
annotate_twice(ax, f"15M HIGH - {m5_high15}", (0, m5_high15), -8, 23)
annotate_twice(ax, f"5M HIGH - {m5_high5}", (0, m5_high5), -8, 23)
annotate_twice(ax, f"15M LOW - {m5_low15}", (27, m5_low15), -10, 22, shift=3)
style_main(ax, (-72.8, 140.0), (214.467, 215.451), m5_xticks, m5_xlabels, m5_yticks,
           "GBPJPY 5m", "#ff7878")

# ---- report panel ----
for i, line in enumerate(report_lines):
    rich_line(fig, renderer, 1588, 89 + i * 12.3 + 3.3, line, 6.9)

fig.savefig("out.png", dpi=100)
